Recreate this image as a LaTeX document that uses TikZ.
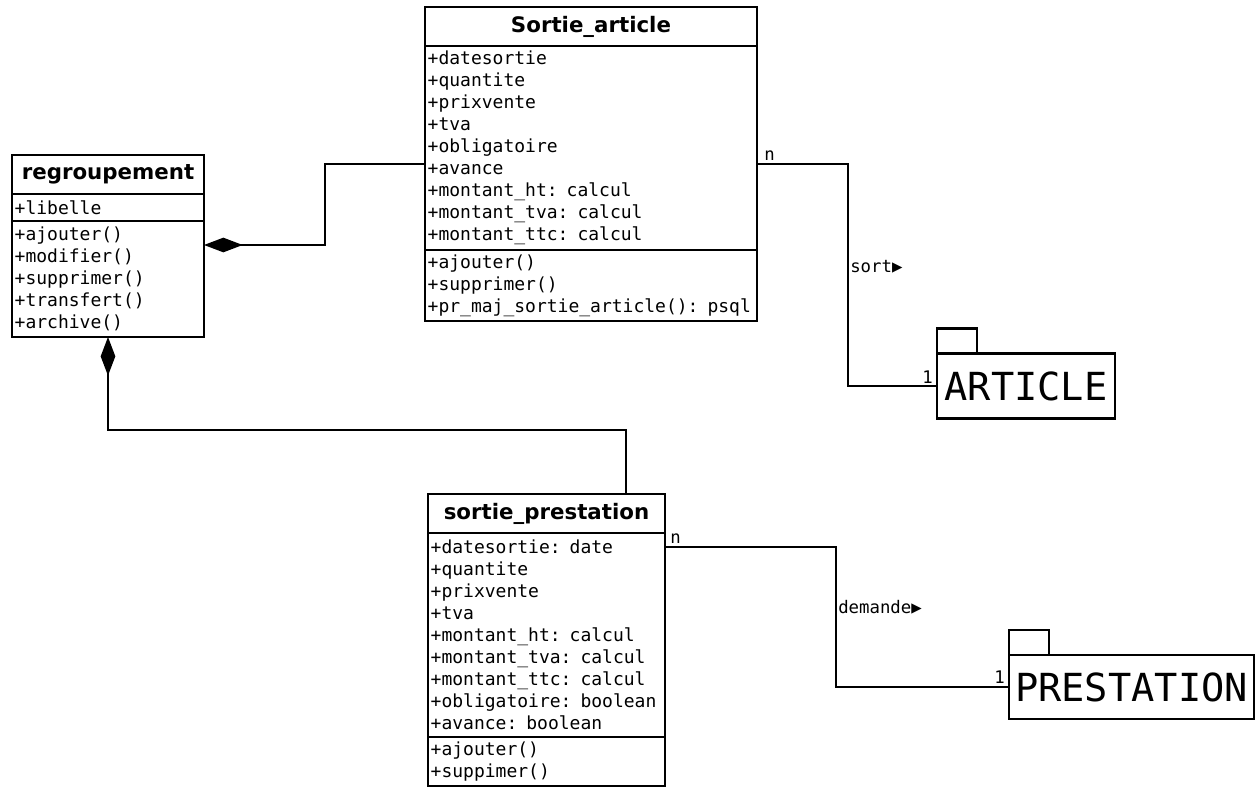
\documentclass[tikz,border=0pt]{standalone}
\usepackage{fontspec}
\setmainfont{DejaVu Sans}
\newfontfamily\umlmono{DejaVu Sans Mono}
\usetikzlibrary{positioning, arrows.meta, calc}

\begin{document}
\begin{tikzpicture}[x=0.75pt, y=-0.75pt,
  ctitle/.style={draw, line width=2pt, outer sep=0pt, inner sep=0pt, font=\bfseries\fontsize{16}{19}\selectfont},
  cpart/.style={draw, line width=2pt, outer sep=0pt, inner xsep=2pt, inner ysep=0pt, align=left, font=\umlmono\fontsize{13.5}{16.5}\selectfont},
  pkg/.style={draw, line width=1.7pt, outer sep=0pt, inner sep=0pt, font=\umlmono\fontsize{29}{32}\selectfont},
  pkgtab/.style={draw, line width=1.7pt, outer sep=0pt, inner sep=0pt, minimum width=30pt, minimum height=18.75pt, anchor=south west},
  comp/.style={line width=1.8pt, {Diamond[length=29pt,width=11pt]}-},
  assoc/.style={line width=1.8pt},
  mult/.style={font=\umlmono\fontsize{13}{15}\selectfont, inner sep=0pt},
]
\useasboundingbox (0,0) rectangle (1259,787);

% class regroupement
\node[ctitle, minimum width=144pt, minimum height=29.25pt] (rg) at (108,174.5) {regroupement};
\node[cpart, text width=140pt, minimum height=20.25pt, below=0pt of rg] (rg-attr) {+libelle};
\node[cpart, text width=140pt, minimum height=87pt, below=0pt of rg-attr] (rg-meth)
  {+ajouter()\\+modifier()\\+supprimer()\\+transfert()\\+archive()};

% class Sortie_article
\node[ctitle, minimum width=249pt, minimum height=29.25pt] (sa) at (591,26.5) {Sortie\_article};
\node[cpart, text width=245pt, minimum height=153pt, below=0pt of sa] (sa-attr)
  {+datesortie\\+quantite\\+prixvente\\+tva\\+obligatoire\\+avance\\+montant\_ht: calcul\\+montant\_tva: calcul\\+montant\_ttc: calcul};
\node[cpart, text width=245pt, minimum height=53.25pt, below=0pt of sa-attr] (sa-meth)
  {+ajouter()\\+supprimer()\\+pr\_maj\_sortie\_article(): psql};

% class sortie_prestation
\node[ctitle, minimum width=177.75pt, minimum height=29.25pt] (sp) at (546.5,513.5) {sortie\_prestation};
\node[cpart, text width=173.75pt, minimum height=153pt, below=0pt of sp] (sp-attr)
  {+datesortie: date\\+quantite\\+prixvente\\+tva\\+montant\_ht: calcul\\+montant\_tva: calcul\\+montant\_ttc: calcul\\+obligatoire: boolean\\+avance: boolean};
\node[cpart, text width=173.75pt, minimum height=36.75pt, below=0pt of sp-attr] (sp-meth)
  {+ajouter()\\+suppimer()};

% packages
\node[pkg, minimum width=133.5pt, minimum height=48.75pt] (art) at (1026,386) {ARTICLE};
\node[pkgtab] (art-tab) at (art.north west) {};
\node[pkg, minimum width=183.75pt, minimum height=48pt] (prest) at (1131.5,687) {PRESTATION};
\node[pkgtab] (prest-tab) at (prest.north west) {};

% compositions
\draw[comp] (rg-meth.east |- 0,245) -| (325,164) -- (sa-attr.west |- 0,164);
\draw[comp] (rg-meth.south) -- (108,430) -| (626,0 |- sp.north);

% associations
\draw[assoc] (sa-attr.east |- 0,164) -| (848,0 |- art.west) -- (art.west);
\node[mult, anchor=south west] (m1) at (764,161) {n};
\node[mult, anchor=south east] (m2) at (933,384) {1};
\node[mult, anchor=west] (l1) at (850,267) {sort▶};

\draw[assoc] (sp-attr.east |- 0,547) -| (836,0 |- prest.west) -- (prest.west);
\node[mult, anchor=south west] (m3) at (670,544) {n};
\node[mult, anchor=south east] (m4) at (1005,684) {1};
\node[mult, anchor=west] (l2) at (838,607) {demande▶};
\end{tikzpicture}
\end{document}
